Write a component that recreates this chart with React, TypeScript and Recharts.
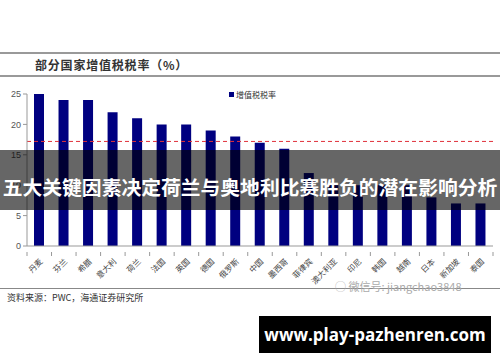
import { BarChart, Bar, XAxis, YAxis, ReferenceLine, Legend } from 'recharts';

const countries = ['丹麦', '芬兰', '希腊', '意大利', '荷兰', '法国', '英国', '德国', '俄罗斯', '中国', '墨西哥', '菲律宾', '澳大利亚', '印尼', '韩国', '越南', '日本', '新加坡', '泰国'];
const vatRates = [25, 24, 24, 22, 21, 20, 20, 19, 18, 17, 16, 12, 10, 10, 10, 10, 8, 7, 7];
const yTicks = [0, 5, 10, 15, 20, 25];
const refValue = 17.2;

const data = countries.map((name, i) => ({ name, rate: vatRates[i] }));

const W = 500;
const H = 362;
const PLOT_LEFT = 27;
const PLOT_RIGHT = 7;
const band = (W - PLOT_LEFT - PLOT_RIGHT) / countries.length;
const cjk = '"Noto Sans CJK SC", "Noto Sans", sans-serif';

// category labels rotated, tick marks drawn on band edges
const XTick = (props: any) => {
  const { x, y, payload, index } = props;
  const axisY = y - 2;
  return (
    <g>
      <line x1={x - band / 2} x2={x - band / 2} y1={axisY} y2={axisY + 4} stroke="#999" />
      {index === countries.length - 1 && (
        <line x1={x + band / 2} x2={x + band / 2} y1={axisY} y2={axisY + 4} stroke="#999" />
      )}
      <text
        x={x + 4}
        y={axisY + 10}
        textAnchor="end"
        transform={`rotate(-45, ${x + 4}, ${axisY + 10})`}
        fontSize={8}
        fill="#444"
        fontFamily={cjk}
      >
        {payload.value}
      </text>
    </g>
  );
};

const LegendBox = () => (
  <div style={{ display: 'flex', alignItems: 'center', fontSize: 8, color: '#333', fontFamily: cjk }}>
    <span style={{ width: 5, height: 5, background: '#000080', display: 'inline-block', marginRight: 2 }} />
    增值税税率
  </div>
);

export default function App() {
  return (
    <div style={{ position: 'absolute', left: 0, top: 0, width: W, height: H, background: '#fff', overflow: 'hidden' }}>
      <div style={{ position: 'absolute', left: 0, right: 0, top: 52, borderTop: '2px solid #999' }} />
      <div style={{ position: 'absolute', left: 35, top: 56, fontSize: 12, fontWeight: 700, color: '#333', letterSpacing: 0.8, fontFamily: cjk }}>
        部分国家增值税税率（%）
      </div>
      <div style={{ position: 'absolute', left: 0, right: 0, top: 75, borderTop: '2px solid #999' }} />

      <BarChart
        width={W}
        height={H}
        data={data}
        margin={{ top: 83, right: PLOT_RIGHT, left: 0, bottom: 86 }}
        style={{ position: 'absolute', left: 0, top: 0 }}
      >
        <XAxis
          dataKey="name"
          interval={0}
          height={30}
          tickLine={false}
          tickMargin={2}
          axisLine={{ stroke: '#999' }}
          tick={<XTick />}
        />
        <YAxis
          domain={[0, 25]}
          ticks={yTicks}
          width={PLOT_LEFT}
          tickSize={4}
          tickMargin={2}
          axisLine={{ stroke: '#999' }}
          tickLine={{ stroke: '#999' }}
          tick={{ fontSize: 9, fill: '#555', fontFamily: 'Arial, "Liberation Sans", sans-serif' }}
        />
        <Legend verticalAlign="top" align="left" wrapperStyle={{ top: 89, left: 229, width: 80 }} content={<LegendBox />} />
        <ReferenceLine y={refValue} stroke="#e0303a" strokeDasharray="4 3" strokeWidth={1} />
        <Bar dataKey="rate" name="增值税税率" fill="#000080" barSize={10} isAnimationActive={false} />
      </BarChart>

      <div style={{ position: 'absolute', left: 0, right: 0, top: 288, borderTop: '1px solid #888' }} />
      <div style={{ position: 'absolute', left: 335, top: 278, fontSize: 11, color: '#aaa', fontFamily: cjk, whiteSpace: 'nowrap' }}>
        ◯ 微信号: jiangchao3848
      </div>
      <div style={{ position: 'absolute', left: 7, top: 291, fontSize: 9, color: '#333', fontFamily: cjk }}>
        资料来源：PWC，海通证券研究所
      </div>

      <div
        style={{
          position: 'absolute', left: 0, top: 150, width: W, height: 60,
          background: 'rgba(0,0,0,0.6)', display: 'flex', alignItems: 'center', justifyContent: 'center',
        }}
      >
        <span style={{ color: '#fff', fontSize: 19.8, fontWeight: 700, fontFamily: cjk, whiteSpace: 'nowrap', marginTop: 12 }}>
          五大关键因素决定荷兰与奥地利比赛胜负的潜在影响分析
        </span>
      </div>

      <div
        style={{
          position: 'absolute', left: 259, top: 316, width: 232, height: 37, background: '#000',
          display: 'flex', alignItems: 'center', justifyContent: 'center',
        }}
      >
        <span style={{ color: '#fff', fontSize: 17, fontWeight: 700, whiteSpace: 'nowrap', fontFamily: '"Open Sans", "DejaVu Sans", sans-serif' }}>
          www.play-pazhenren.com
        </span>
      </div>
    </div>
  );
}
